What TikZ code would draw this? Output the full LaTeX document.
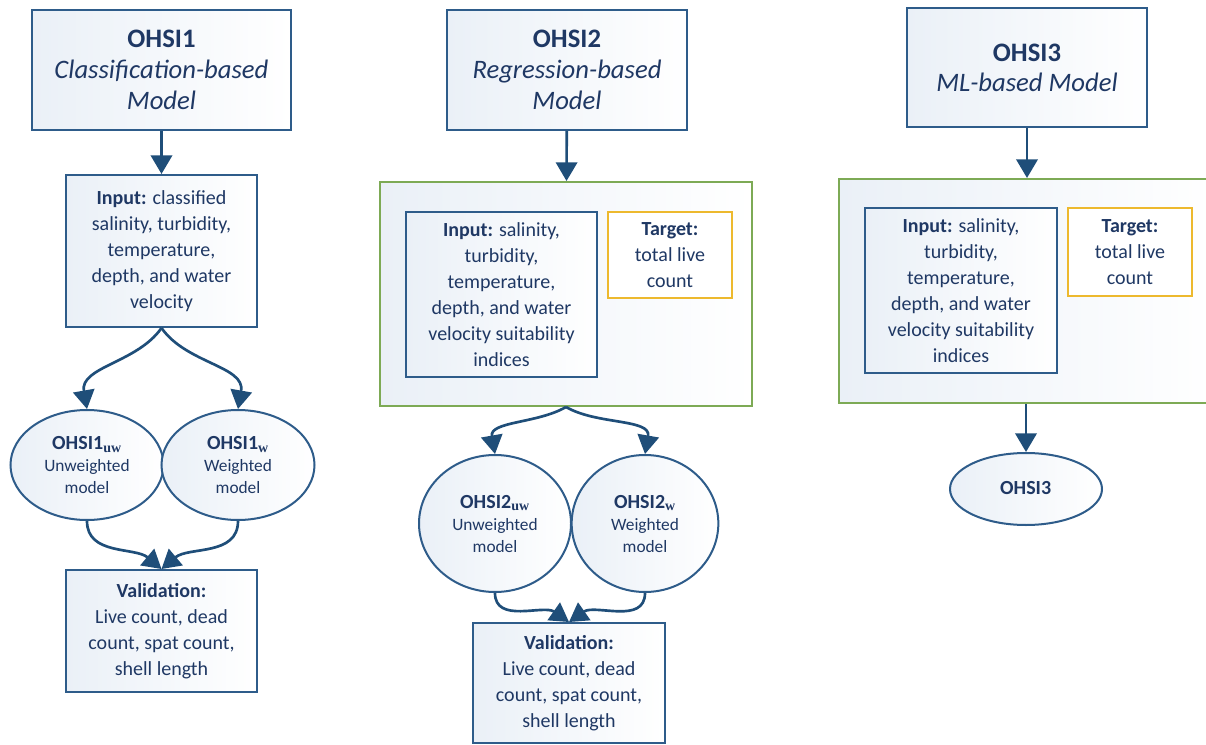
\documentclass[tikz,border=0pt]{standalone}
\usepackage{fontspec}
\setmainfont{Carlito}
\newfontfamily\subfont{Liberation Serif}
\usetikzlibrary{arrows.meta,shapes.geometric}

\definecolor{navy}{HTML}{1F3864}
\definecolor{boxblue}{HTML}{2E5C8A}
\definecolor{arrowblue}{HTML}{1F4E79}
\definecolor{boxgreen}{HTML}{7DAA55}
\definecolor{boxgold}{HTML}{EDB92E}
\definecolor{paleblue}{HTML}{EAF0F7}

\tikzset{
  shadebox/.style={left color=paleblue, right color=white},
  titlebox/.style={draw=boxblue, line width=1.5pt, shadebox, inner sep=0pt,
    align=center, text=navy, font=\fontsize{20}{23}\selectfont},
  textbox/.style={draw=boxblue, line width=1.5pt, shadebox, inner sep=0pt,
    align=center, text=navy, font=\fontsize{15}{19.5}\selectfont},
  targetbox/.style={draw=boxgold, line width=1.5pt, fill=white, inner sep=0pt,
    align=center, text=navy, font=\fontsize{15}{19.5}\selectfont},
  greenbox/.style={draw=boxgreen, line width=1.5pt, shadebox, inner sep=0pt},
  model/.style={ellipse, draw=boxblue, line width=1.5pt, shadebox, inner sep=0pt,
    align=center, text=navy, font=\fontsize{13}{16.5}\selectfont},
  conn/.style={draw=arrowblue, line width=2pt, -{Triangle[width=16pt,length=14pt]}}
}

\newcommand{\modelname}[2]{{\fontsize{15}{18}\selectfont\textbf{#1\textsubscript{\subfont\bfseries #2}}}}

\begin{document}
\begin{tikzpicture}[x=0.75pt, y=-0.75pt]
  \useasboundingbox (0,0) rectangle (1206,745);

  % column 1: classification-based model
  \node[titlebox, minimum width=194.25pt, minimum height=90pt] (t1) at (161.5,70)
    {\textbf{OHSI1}\\\textit{Classification-based}\\\textit{Model}};
  \node[textbox, minimum width=143.25pt, minimum height=114pt] (in1) at (161.5,251)
    {\textbf{Input:} classified\\salinity, turbidity,\\temperature,\\depth, and water\\velocity};
  \node[model, minimum width=114.75pt, minimum height=82.5pt] (e1a) at (87,465)
    {\modelname{OHSI1}{uw}\\Unweighted\\model};
  \node[model, minimum width=114.75pt, minimum height=82.5pt] (e1b) at (238,465)
    {\modelname{OHSI1}{w}\\Weighted\\model};
  \node[textbox, minimum width=143.25pt, minimum height=91.5pt] (v1) at (161.5,631)
    {\textbf{Validation:}\\Live count, dead\\count, spat count,\\shell length};

  \draw[conn] (t1) -- (in1);
  \draw[conn] (in1.south) to[out=-125, in=100] (e1a.north);
  \draw[conn] (in1.south) to[out=-55, in=80] (e1b.north);
  \draw[conn] (e1a.south) to[out=-90, in=140] (v1.north);
  \draw[conn] (e1b.south) to[out=-90, in=40] (v1.north);

  % column 2: regression-based model
  \node[titlebox, minimum width=180pt, minimum height=90pt] (t2) at (567,70)
    {\textbf{OHSI2}\\\textit{Regression-based}\\\textit{Model}};
  \node[greenbox, minimum width=279pt, minimum height=168pt] (g2) at (566,294) {};
  \node[textbox, minimum width=143.25pt, minimum height=123.75pt] (in2) at (501.5,294.5)
    {\textbf{Input:} salinity,\\turbidity,\\temperature,\\depth, and water\\velocity suitability\\indices};
  \node[targetbox, minimum width=93pt, minimum height=64.5pt] (tg2) at (670,255)
    {\textbf{Target:}\\total live\\count};
  \node[model, minimum width=114pt, minimum height=102.75pt] (e2a) at (495,523.5)
    {\modelname{OHSI2}{uw}\\Unweighted\\model};
  \node[model, minimum width=110pt, minimum height=102.75pt] (e2b) at (645,523.5)
    {\modelname{OHSI2}{w}\\Weighted\\model};
  \node[textbox, minimum width=144pt, minimum height=90pt] (v2) at (569,683)
    {\textbf{Validation:}\\Live count, dead\\count, spat count,\\shell length};

  \draw[conn] (t2) -- (g2);
  \draw[conn] (g2.south) to[out=-150, in=100] (e2a.north);
  \draw[conn] (g2.south) to[out=-30, in=80] (e2b.north);
  \draw[conn] (e2a.south) to[out=-90, in=145] (v2.north);
  \draw[conn] (e2b.south) to[out=-90, in=35] (v2.north);

  % column 3: ML-based model
  \node[titlebox, minimum width=180pt, minimum height=89.25pt] (t3) at (1027,68)
    {\textbf{OHSI3}\\\textit{ML-based Model}};
  \node[greenbox, minimum width=282pt, minimum height=168pt] (g3) at (1027,291) {};
  \node[textbox, minimum width=144pt, minimum height=123.75pt] (in3) at (961,290.5)
    {\textbf{Input:} salinity,\\turbidity,\\temperature,\\depth, and water\\velocity suitability\\indices};
  \node[targetbox, minimum width=93pt, minimum height=66pt] (tg3) at (1130,252)
    {\textbf{Target:}\\total live\\count};
  \node[model, minimum width=114pt, minimum height=54pt] (e3) at (1026,489)
    {\modelname{OHSI3}{}};

  \draw[conn] (t3) -- (g3);
  \draw[conn] (g3.south -| e3.north) -- (e3.north);
\end{tikzpicture}
\end{document}
